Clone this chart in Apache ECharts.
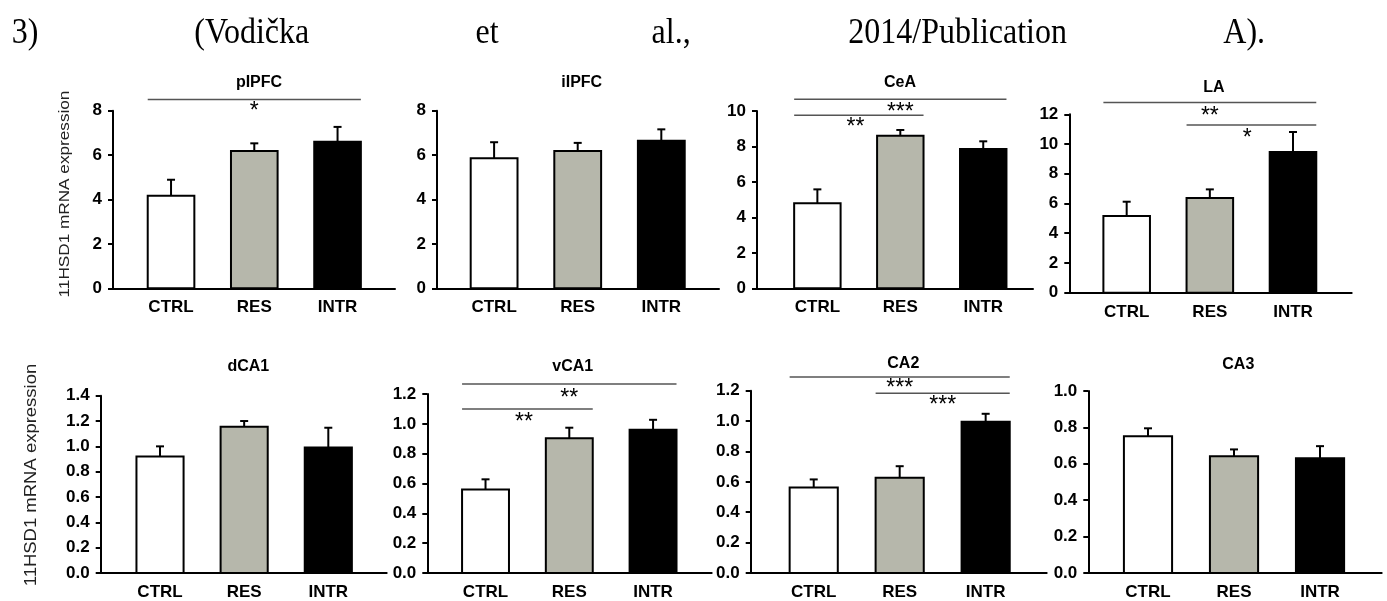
<!DOCTYPE html>
<html>
<head>
<meta charset="utf-8">
<script src="https://cdn.jsdelivr.net/npm/echarts@6/dist/echarts.min.js"></script>
<style>html,body{margin:0;padding:0;background:#fff}#c{width:1387px;height:601px}</style>
</head>
<body>
<div id="c"></div>
<script>
// ---------------- DATA ----------------
const categories = ['CTRL', 'RES', 'INTR'];
const regions = ['pIPFC', 'iIPFC', 'CeA', 'LA', 'dCA1', 'vCA1', 'CA2', 'CA3'];
const yAxisTitle = '11HSD1 mRNA expression';
const headerWords = ['3)', '(Vodička', 'et', 'al.,', '2014/Publication', 'A).'];

// mean values (CTRL, RES, INTR)
const pIPFC_mean = [4.17, 6.18, 6.60];
const iIPFC_mean = [5.86, 6.18, 6.65];
const CeA_mean   = [4.79, 8.61, 7.86];
const LA_mean    = [5.16, 6.37, 9.46];
const dCA1_mean  = [0.92, 1.155, 0.99];
const vCA1_mean  = [0.559, 0.903, 0.96];
const CA2_mean   = [0.562, 0.627, 0.995];
const CA3_mean   = [0.752, 0.641, 0.630];

// SEM (upper error bar length)
const pIPFC_sem = [0.72, 0.35, 0.67];
const iIPFC_sem = [0.72, 0.37, 0.51];
const CeA_sem   = [0.79, 0.32, 0.43];
const LA_sem    = [0.96, 0.58, 1.35];
const dCA1_sem  = [0.08, 0.045, 0.157];
const vCA1_sem  = [0.069, 0.071, 0.067];
const CA2_sem   = [0.054, 0.076, 0.053];
const CA3_sem   = [0.043, 0.038, 0.067];

// y-axis tick ranges
const yMax  = [8, 8, 10, 12, 1.4, 1.2, 1.2, 1.0];
const yStep = [2, 2, 2, 2, 0.2, 0.2, 0.2, 0.2];
const yDecimals = [0, 0, 0, 0, 1, 1, 1, 1];

// significance brackets: [panel, fromGroup, toGroup, yValue]
const brackets = [
  [0, 0, 2, 8.51],
  [2, 0, 2, 10.66], [2, 0, 1, 9.76],
  [3, 0, 2, 12.8],  [3, 1, 2, 11.28],
  [5, 0, 2, 1.267], [5, 0, 1, 1.10],
  [6, 0, 2, 1.291], [6, 1, 2, 1.183]
];
// significance stars: [panel, groupPosition, yValue, text]
const stars = [
  [0, 1, 8.12, '*'],
  [2, 1, 10.15, '***'], [2, 0.46, 9.27, '**'],
  [3, 1, 12.1, '**'],   [3, 1.45, 10.6, '*'],
  [5, 1, 1.193, '**'],  [5, 0.46, 1.038, '**'],
  [6, 1, 1.237, '***'], [6, 1.5, 1.128, '***']
];

const means = [pIPFC_mean, iIPFC_mean, CeA_mean, LA_mean, dCA1_mean, vCA1_mean, CA2_mean, CA3_mean];
const sems  = [pIPFC_sem, iIPFC_sem, CeA_sem, LA_sem, dCA1_sem, vCA1_sem, CA2_sem, CA3_sem];

// ---------------- LAYOUT / STYLE ----------------
const grids = [
  {left: 113,    top: 110.7, width: 282,   height: 177.6, xMin: 0.303, xMax: 3.69},
  {left: 437,    top: 110.7, width: 282,   height: 177.6, xMin: 0.317, xMax: 3.69},
  {left: 757,    top: 111,   width: 276,   height: 177.3, xMin: 0.272, xMax: 3.60},
  {left: 1069.3, top: 114.3, width: 282.4, height: 178.4, xMin: 0.31,  xMax: 3.706},
  {left: 100.7,  top: 395.7, width: 286,   height: 178.6, xMin: 0.295, xMax: 3.694},
  {left: 427.3,  top: 394,   width: 284.4, height: 180.3, xMin: 0.305, xMax: 3.70},
  {left: 750.7,  top: 390.7, width: 296,   height: 183.6, xMin: 0.267, xMax: 3.71},
  {left: 1088.3, top: 391,   width: 293.4, height: 184,   xMin: 0.306, xMax: 3.717}
];
const titlePos = [[254, 78], [576.7, 78], [895, 78], [1209, 83], [243.3, 361.7], [567.7, 361.7], [898.3, 358.3], [1233.3, 359.3]];
const headerX = [11.7, 194.3, 475.6, 651.6, 848.3, 1223.3];
const barColors = ['#ffffff', '#b6b7ab', '#000000'];
const FONT = 'Liberation Sans, Arial, sans-serif';

const option = {
  backgroundColor: '#ffffff',
  animation: false,
  title: regions.map((r, i) => ({
    text: r, left: titlePos[i][0], top: titlePos[i][1] - 9, textAlign: 'center',
    textStyle: {fontFamily: FONT, fontWeight: 'bold', fontSize: 16, color: '#000', lineHeight: 18}
  })),
  grid: grids.map(g => ({left: g.left, top: g.top, width: g.width, height: g.height, containLabel: false})),
  xAxis: grids.map((g, i) => ({
    type: 'value', gridIndex: i, min: g.xMin, max: g.xMax,
    splitLine: {show: false},
    axisTick: {show: false},
    axisLine: {show: true, onZero: false, lineStyle: {color: '#000', width: 2}},
    axisLabel: {
      customValues: [1, 2, 3],
      formatter: v => categories[Math.round(v) - 1] || '',
      fontFamily: FONT, fontWeight: 'bold', fontSize: 17, color: '#000', margin: 11
    }
  })),
  yAxis: grids.map((g, i) => ({
    type: 'value', gridIndex: i, min: 0, max: yMax[i], interval: yStep[i],
    splitLine: {show: false},
    axisLine: {show: true, onZero: false, lineStyle: {color: '#000', width: 2}},
    axisTick: {show: true, length: 5, lineStyle: {color: '#000', width: 2}},
    axisLabel: {
      formatter: v => v.toFixed(yDecimals[i]),
      fontFamily: FONT, fontWeight: 'bold', fontSize: 17, color: '#000', margin: 11
    }
  })),
  graphic: [
    ...headerWords.map((w, i) => ({
      type: 'text', x: headerX[i], y: 33, scaleY: 1.14, originY: 0,
      style: {text: w, font: '32px "Liberation Serif", "Times New Roman", serif', fill: '#000',
              textAlign: 'left', textVerticalAlign: 'middle'}
    })),
    {type: 'text', x: 65, y: 194, rotation: Math.PI / 2, scaleX: 1.145,
     style: {text: yAxisTitle, font: '15px ' + FONT, fill: '#222', textAlign: 'center', textVerticalAlign: 'middle'}},
    {type: 'text', x: 31.7, y: 475, rotation: Math.PI / 2, scaleX: 1.155,
     style: {text: yAxisTitle, font: '16px ' + FONT, fill: '#222', textAlign: 'center', textVerticalAlign: 'middle'}}
  ],
  series: []
};

const BAR_FRAC = 0.56;

regions.forEach((r, p) => {
  option.series.push({
    type: 'custom', name: r, xAxisIndex: p, yAxisIndex: p, clip: false,
    data: categories.map((c, k) => [k + 1, means[p][k], sems[p][k]]),
    renderItem: (params, api) => {
      const x = api.value(0), m = api.value(1), e = api.value(2);
      const base = api.coord([x, 0]);
      const top = api.coord([x, m]);
      const et = api.coord([x, m + e]);
      const w = api.size([BAR_FRAC, 0])[0];
      return {type: 'group', children: [
        {type: 'line', shape: {x1: top[0], y1: top[1], x2: et[0], y2: et[1]}, style: {stroke: '#000', lineWidth: 2}},
        {type: 'line', shape: {x1: et[0] - 4, y1: et[1], x2: et[0] + 4, y2: et[1]}, style: {stroke: '#000', lineWidth: 2}},
        {type: 'rect', shape: {x: base[0] - w / 2, y: top[1], width: w, height: base[1] - top[1]},
         style: {fill: barColors[params.dataIndex], stroke: '#000', lineWidth: 2}}
      ]};
    }
  });
  const bk = brackets.filter(b => b[0] === p);
  if (bk.length) {
    option.series.push({
      type: 'custom', xAxisIndex: p, yAxisIndex: p, clip: false, silent: true,
      data: bk.map(b => [b[1] + 1, b[2] + 1, b[3]]),
      renderItem: (params, api) => {
        const a = api.coord([api.value(0) - BAR_FRAC / 2, api.value(2)]);
        const b = api.coord([api.value(1) + BAR_FRAC / 2, api.value(2)]);
        return {type: 'line', shape: {x1: a[0], y1: a[1], x2: b[0], y2: b[1]}, style: {stroke: '#555', lineWidth: 1.5}};
      }
    });
  }
  const st = stars.filter(s => s[0] === p);
  if (st.length) {
    option.series.push({
      type: 'custom', xAxisIndex: p, yAxisIndex: p, clip: false, silent: true,
      data: st.map(s => [s[1] + 1, s[2]]),
      renderItem: (params, api) => {
        const pt = api.coord([api.value(0), api.value(1)]);
        return {type: 'text', x: pt[0], y: pt[1] + 4,
                style: {text: st[params.dataIndex][3], font: '23px ' + FONT, fill: '#000',
                        textAlign: 'center', textVerticalAlign: 'middle'}};
      }
    });
  }
});

const chart = echarts.init(document.getElementById('c'), null, {renderer: 'canvas'});
chart.setOption(option);
</script>
</body>
</html>
